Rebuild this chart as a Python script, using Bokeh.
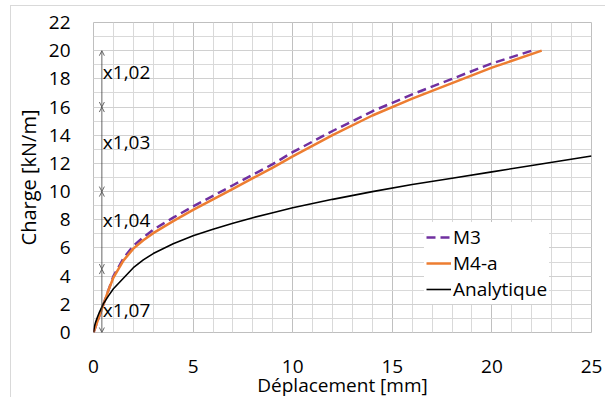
from bokeh.plotting import figure
from bokeh.models import (Range1d, SingleIntervalTicker, Legend, LegendItem, Arrow, OpenHead, Label, Title)
from bokeh.embed import file_html
from bokeh.resources import INLINE

# Data
m3_x = [0, 0.5, 1.0, 1.5, 2, 2.5, 3, 4, 5, 6, 7, 8, 9, 10, 12, 14, 16, 18, 20, 22.0]
m3_y = [0, 2.0, 4.0, 5.25, 6.15, 6.75, 7.3, 8.15, 8.95, 9.7, 10.45, 11.2, 11.95, 12.8, 14.3, 15.7, 16.9, 18.0, 19.1, 20.0]

m4a_x = [0, 0.25, 0.5, 0.75, 1.0, 1.5, 2, 2.5, 3, 4, 5, 6, 7, 8, 9, 10, 12, 14, 16, 18, 20, 22.5]
m4a_y = [0, 1.0, 2.0, 3.0, 3.9, 5.1, 5.95, 6.55, 7.05, 7.9, 8.7, 9.45, 10.2, 10.95, 11.7, 12.5, 14.0, 15.4, 16.6, 17.7, 18.8, 20.0]

ana_x = [0, 0.05, 0.1, 0.2, 0.3, 0.5, 0.75, 1, 1.5, 2, 2.5, 3, 4, 5, 6, 7, 8, 9, 10, 12, 14, 16, 18, 20, 22, 25]
ana_y = [0, 0.45, 0.7, 1.1, 1.45, 2.05, 2.6, 3.1, 3.85, 4.6, 5.15, 5.6, 6.3, 6.86, 7.33, 7.75, 8.15, 8.5, 8.85, 9.45, 10.0, 10.5, 10.95, 11.4, 11.85, 12.53]

# Ratio annotations (segments along the load axis)
seg_x = 0.42
seg_bounds = [0, 4.5, 10, 16, 20]
ratio_labels = ["x1,07", "x1,04", "x1,03", "x1,02"]
ratio_label_y = [1.6, 8.0, 13.55, 18.5]

x_ticks_step = 5
y_ticks_step = 2

FONT = "Open Sans"

p = figure(width=595, height=392, output_backend="svg", toolbar_location=None,
           x_range=Range1d(0, 25), y_range=Range1d(0, 22),
           min_border_left=81, min_border_right=15, min_border_top=16, min_border_bottom=66)
p.styles = {"margin-left": "10px", "margin-top": "5px",
            "border-left": "1px solid #d9d9d9", "border-top": "1px solid #d9d9d9"}

p.xaxis.ticker = SingleIntervalTicker(interval=x_ticks_step, num_minor_ticks=5)
p.yaxis.ticker = SingleIntervalTicker(interval=y_ticks_step, num_minor_ticks=2)

p.xgrid.grid_line_color = "#c0c0c0"
p.xgrid.minor_grid_line_color = "#d9d9d9"
p.ygrid.grid_line_color = "#d0d0d0"
p.ygrid.minor_grid_line_color = "#d9d9d9"
for g in (p.xgrid, p.ygrid):
    g.grid_line_width = 1
    g.minor_grid_line_width = 1

p.outline_line_color = "#bfbfbf"
p.outline_line_width = 1

for ax in (p.xaxis, p.yaxis):
    ax.axis_line_color = None
    ax.major_tick_line_color = None
    ax.minor_tick_line_color = None
    ax.major_tick_out = 0
    ax.major_tick_in = 0
    ax.minor_tick_out = 0
    ax.minor_tick_in = 0
    ax.major_label_text_font = FONT
    ax.major_label_text_font_size = "19px"
    ax.major_label_text_color = "#000000"
    ax.axis_label_text_font = FONT
    ax.axis_label_text_font_size = "20px"
    ax.axis_label_text_font_style = "normal"
    ax.axis_label_text_color = "#000000"

p.yaxis.major_label_standoff = 23
p.xaxis.major_label_standoff = 27
p.yaxis.axis_label = "Charge [kN/m]"
p.yaxis.axis_label_standoff = 4

# x axis label (centered on the chart area rather than the plot area)
p.add_layout(Title(text="Déplacement [mm]", align="center", offset=10, standoff=-11,
                   text_font=FONT, text_font_size="19px", text_font_style="normal",
                   text_color="#000000"), "below")

r_m3 = p.line(m3_x, m3_y, line_color="#7030A0", line_width=2.5, line_dash="9 5")
r_m4 = p.line(m4a_x, m4a_y, line_color="#ED7D31", line_width=2.5)
r_an = p.line(ana_x, ana_y, line_color="#000000", line_width=1.6)

for i in range(len(seg_bounds) - 1):
    p.add_layout(Arrow(x_start=seg_x, y_start=seg_bounds[i], x_end=seg_x, y_end=seg_bounds[i + 1],
                       start=OpenHead(size=5, line_width=0.8, line_color="#404040"),
                       end=OpenHead(size=5, line_width=0.8, line_color="#404040"),
                       line_width=0.8, line_color="#404040"))
for t, yy in zip(ratio_labels, ratio_label_y):
    p.add_layout(Label(x=seg_x, y=yy, text=t, text_font=FONT, text_font_size="19px",
                       text_baseline="middle", text_color="#000000", x_offset=1))

legend = Legend(items=[LegendItem(label="M3", renderers=[r_m3]),
                       LegendItem(label="M4-a", renderers=[r_m4]),
                       LegendItem(label="Analytique", renderers=[r_an])],
                location=(331, 28), orientation="vertical",
                glyph_width=25, glyph_height=20, label_height=20, spacing=0, padding=2,
                label_standoff=2, margin=0,
                label_text_font=FONT, label_text_font_size="19px", label_text_color="#000000",
                background_fill_color="white", background_fill_alpha=1.0,
                border_line_alpha=0)
p.add_layout(legend, "center")

open("out.html", "w").write(file_html(p, INLINE))
